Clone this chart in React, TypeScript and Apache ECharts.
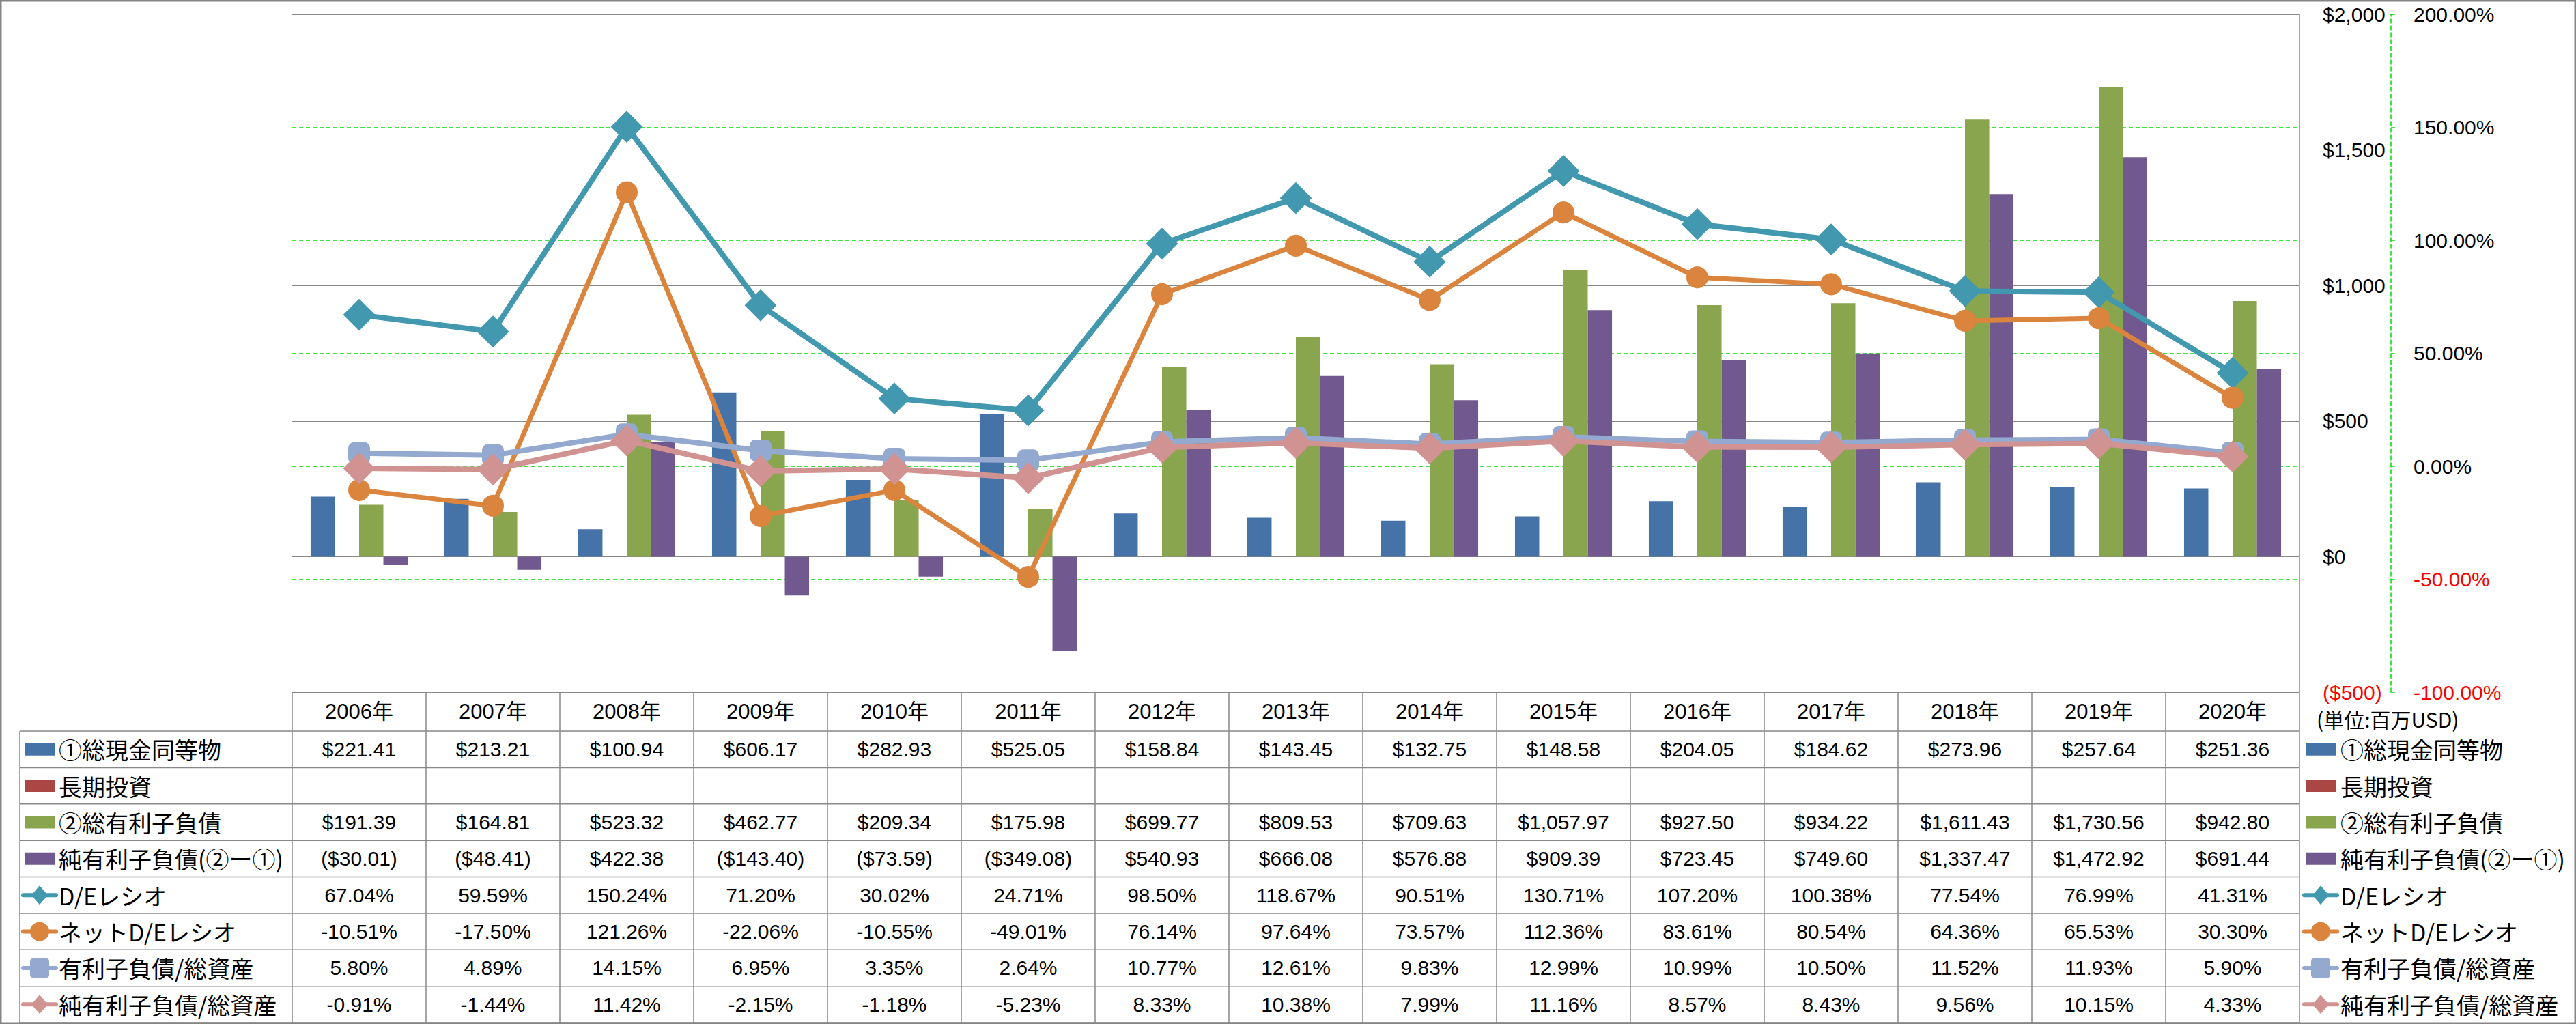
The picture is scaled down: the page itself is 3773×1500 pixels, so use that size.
import React, { useEffect, useRef } from "react";
import * as echarts from "echarts";

const years = ["2006年", "2007年", "2008年", "2009年", "2010年", "2011年", "2012年", "2013年", "2014年", "2015年", "2016年", "2017年", "2018年", "2019年", "2020年"];
const cashEquivalents = [221.41, 213.21, 100.94, 606.17, 282.93, 525.05, 158.84, 143.45, 132.75, 148.58, 204.05, 184.62, 273.96, 257.64, 251.36];
const longTermInvestments = [null, null, null, null, null, null, null, null, null, null, null, null, null, null, null];
const totalDebt = [191.39, 164.81, 523.32, 462.77, 209.34, 175.98, 699.77, 809.53, 709.63, 1057.97, 927.5, 934.22, 1611.43, 1730.56, 942.8];
const netDebt = [-30.01, -48.41, 422.38, -143.4, -73.59, -349.08, 540.93, 666.08, 576.88, 909.39, 723.45, 749.6, 1337.47, 1472.92, 691.44];
const deRatio = [67.04, 59.59, 150.24, 71.2, 30.02, 24.71, 98.5, 118.67, 90.51, 130.71, 107.2, 100.38, 77.54, 76.99, 41.31];
const netDeRatio = [-10.51, -17.5, 121.26, -22.06, -10.55, -49.01, 76.14, 97.64, 73.57, 112.36, 83.61, 80.54, 64.36, 65.53, 30.3];
const debtToAssets = [5.8, 4.89, 14.15, 6.95, 3.35, 2.64, 10.77, 12.61, 9.83, 12.99, 10.99, 10.5, 11.52, 11.93, 5.9];
const netDebtToAssets = [-0.91, -1.44, 11.42, -2.15, -1.18, -5.23, 8.33, 10.38, 7.99, 11.16, 8.57, 8.43, 9.56, 10.15, 4.33];

const moneyAxis = { min: -500, max: 2000, interval: 500 };
const ratioAxis = { min: -100, max: 200, interval: 50 };
const unitLabel = "(単位:百万USD)";

type Def = {
  name: string;
  kind: "bar" | "line";
  data: (number | null)[];
  color: string;
  fmt: "money" | "pct";
  symbol?: string;
  symbolSize?: number;
  lineWidth?: number;
};

const defs: Def[] = [
  { name: "①総現金同等物", kind: "bar", data: cashEquivalents, color: "#4572A7", fmt: "money" },
  { name: "長期投資", kind: "bar", data: longTermInvestments, color: "#AA4643", fmt: "money" },
  { name: "②総有利子負債", kind: "bar", data: totalDebt, color: "#89A54E", fmt: "money" },
  { name: "純有利子負債(②ー①)", kind: "bar", data: netDebt, color: "#71588F", fmt: "money" },
  { name: "D/Eレシオ", kind: "line", data: deRatio, color: "#4198AF", fmt: "pct", symbol: "diamond", symbolSize: 44, lineWidth: 8 },
  { name: "ネットD/Eレシオ", kind: "line", data: netDeRatio, color: "#DB843D", fmt: "pct", symbol: "circle", symbolSize: 30, lineWidth: 7 },
  { name: "有利子負債/総資産", kind: "line", data: debtToAssets, color: "#93A9CF", fmt: "pct", symbol: "roundRect", symbolSize: 30, lineWidth: 8 },
  { name: "純有利子負債/総資産", kind: "line", data: netDebtToAssets, color: "#D19392", fmt: "pct", symbol: "diamond", symbolSize: 44, lineWidth: 8 },
];

const W = 3773;
const H = 1500;
const GRID_LEFT = 428;
const GRID_TOP = 21;
const GRID_W = 2940;
const GRID_H = 993;
const TABLE_LEFT = 29;
const HEADER_H = 57;
const TABLE_BOTTOM = 1498;
const GRAY = "#888888";
const GREEN = "#00DD00";
const NUM_FONT = "'Liberation Sans', 'Noto Sans CJK JP', sans-serif";
const JP_FONT = "'Noto Sans CJK JP', sans-serif";

function fmtNum(v: number) {
  return v.toLocaleString("en-US", { minimumFractionDigits: 2, maximumFractionDigits: 2 });
}
function fmtCell(v: number | null, kind: "money" | "pct") {
  if (v === null || v === undefined) return "";
  if (kind === "pct") return v.toFixed(2) + "%";
  return v < 0 ? "($" + fmtNum(Math.abs(v)) + ")" : "$" + fmtNum(v);
}

function textEl(text: string, x: number, y: number, size: number, family: string, align: string, color = "#000") {
  return {
    type: "text",
    silent: true,
    x,
    y,
    style: {
      text,
      fill: color,
      fontSize: size,
      fontFamily: family,
      align,
      verticalAlign: "middle",
      textAlign: align,
      textVerticalAlign: "middle",
    },
  };
}

function keyEls(def: Def, cx: number, cy: number) {
  const els: any[] = [];
  if (def.kind === "bar") {
    els.push({ type: "rect", silent: true, shape: { x: cx - 22, y: cy - 9, width: 44, height: 18 }, style: { fill: def.color } });
  } else {
    els.push({ type: "line", silent: true, shape: { x1: cx - 24, y1: cy, x2: cx + 24, y2: cy }, style: { stroke: def.color, lineWidth: 6, lineCap: "round" } });
    if (def.symbol === "diamond") {
      els.push({ type: "polygon", silent: true, shape: { points: [[cx, cy - 14], [cx + 12, cy], [cx, cy + 14], [cx - 12, cy]] }, style: { fill: def.color } });
    } else if (def.symbol === "circle") {
      els.push({ type: "circle", silent: true, shape: { cx, cy, r: 14 }, style: { fill: def.color } });
    } else {
      els.push({ type: "rect", silent: true, shape: { x: cx - 14, y: cy - 14, width: 28, height: 28, r: 4 }, style: { fill: def.color } });
    }
  }
  return els;
}

export default function App() {
  const ref = useRef<HTMLDivElement>(null);
  useEffect(() => {
    document.body.style.margin = "0";
    const chart = echarts.init(ref.current!, null, { renderer: "svg", width: W, height: H });
    const series: any[] = defs.map((d) =>
      d.kind === "bar"
        ? {
            name: d.name,
            type: "bar",
            yAxisIndex: 0,
            data: d.data,
            barGap: "0%",
            barCategoryGap: "27.5%",
            itemStyle: { color: d.color },
          }
        : {
            name: d.name,
            type: "line",
            yAxisIndex: 1,
            data: d.data,
            symbol: d.symbol,
            symbolSize: d.symbolSize,
            showAllSymbol: true,
            lineStyle: { color: d.color, width: d.lineWidth },
            itemStyle: { color: d.color, borderColor: d.color, borderWidth: 2 },
            z: 5,
          }
    );
    chart.setOption({
      animation: false,
      backgroundColor: "#ffffff",
      grid: { left: GRID_LEFT, top: GRID_TOP, width: GRID_W, height: GRID_H, containLabel: false },
      xAxis: {
        type: "category",
        data: years,
        boundaryGap: true,
        axisLine: { show: false },
        axisTick: { show: false },
        axisLabel: { show: false },
        splitLine: { show: false },
      },
      yAxis: [
        {
          type: "value",
          position: "right",
          min: moneyAxis.min,
          max: moneyAxis.max,
          interval: moneyAxis.interval,
          axisLine: { show: false },
          axisTick: { show: false },
          axisLabel: {
            margin: 34,
            align: "left",
            fontSize: 30,
            fontFamily: NUM_FONT,
            color: (v: any) => (Number(v) < 0 ? "#FF0000" : "#000000"),
            formatter: (v: number) => (v < 0 ? "($" + Math.abs(v).toLocaleString("en-US") + ")" : "$" + v.toLocaleString("en-US")),
          },
          splitLine: { show: true, lineStyle: { color: GRAY, width: 1.2 } },
        },
        {
          type: "value",
          position: "right",
          offset: 134,
          min: ratioAxis.min,
          max: ratioAxis.max,
          interval: ratioAxis.interval,
          axisLine: { show: true, lineStyle: { color: GREEN, width: 1.5, type: [6, 4] } },
          axisTick: { show: true, length: 11, lineStyle: { color: GREEN, width: 1.5, type: [6, 4] } },
          axisLabel: {
            margin: 33,
            align: "left",
            fontSize: 30,
            fontFamily: NUM_FONT,
            color: (v: any) => (Number(v) < 0 ? "#FF0000" : "#000000"),
            formatter: (v: number) => v.toFixed(2) + "%",
          },
          splitLine: {
            show: true,
            lineStyle: {
              color: ["rgba(0,0,0,0)", GREEN, GREEN, GREEN, GREEN, GREEN, "rgba(0,0,0,0)"],
              width: 1.5,
              type: [6, 4],
            },
          },
        },
      ],
      series,
    });

    const centers = years.map((y) => chart.convertToPixel({ xAxisIndex: 0 }, y) as number);
    const colW = centers[1] - centers[0];
    const tableTop = chart.convertToPixel({ yAxisIndex: 0 }, moneyAxis.min) as number;
    const plotTop = chart.convertToPixel({ yAxisIndex: 0 }, moneyAxis.max) as number;
    const plotLeft = centers[0] - colW / 2;
    const plotRight = centers[centers.length - 1] + colW / 2;
    const rowsTop = tableTop + HEADER_H;
    const rowH = (TABLE_BOTTOM - rowsTop) / defs.length;

    const els: any[] = [];
    const lineStyle = { stroke: GRAY, lineWidth: 1.5 };
    els.push({ type: "line", silent: true, shape: { x1: plotLeft, y1: tableTop, x2: plotRight, y2: tableTop }, style: lineStyle });
    for (let k = 0; k <= defs.length; k++) {
      const y = rowsTop + k * rowH;
      els.push({ type: "line", silent: true, shape: { x1: TABLE_LEFT, y1: y, x2: plotRight, y2: y }, style: lineStyle });
    }
    els.push({ type: "line", silent: true, shape: { x1: TABLE_LEFT, y1: rowsTop, x2: TABLE_LEFT, y2: TABLE_BOTTOM }, style: lineStyle });
    for (let k = 0; k <= years.length; k++) {
      const x = plotLeft + k * colW;
      els.push({ type: "line", silent: true, shape: { x1: x, y1: k === years.length ? plotTop : tableTop, x2: x, y2: TABLE_BOTTOM }, style: lineStyle });
    }
    years.forEach((y, i) => els.push(textEl(y, centers[i], tableTop + HEADER_H / 2, 31, NUM_FONT, "center")));
    defs.forEach((d, r) => {
      const cy = rowsTop + rowH * (r + 0.5);
      const lk = TABLE_LEFT + 29;
      els.push(...keyEls(d, lk, cy));
      els.push(textEl(d.name, lk + 28, cy, 34, JP_FONT, "left"));
      d.data.forEach((v, i) => {
        const t = fmtCell(v, d.fmt);
        if (t) els.push(textEl(t, centers[i], cy, 30, NUM_FONT, "center"));
      });
      const rk = plotRight + 31;
      els.push(...keyEls(d, rk, cy));
      els.push(textEl(d.name, rk + 29, cy, 34, JP_FONT, "left"));
    });
    els.push(textEl(unitLabel, plotRight + 25, tableTop + 39, 30, JP_FONT, "left"));
    els.push({ type: "rect", silent: true, shape: { x: 1.25, y: 1.25, width: W - 2.5, height: H - 2.5 }, style: { fill: "none", stroke: "#868686", lineWidth: 2.5 } });

    chart.setOption({ graphic: { elements: els } });
    return () => chart.dispose();
  }, []);
  return <div ref={ref} style={{ width: W, height: H }} />;
}
